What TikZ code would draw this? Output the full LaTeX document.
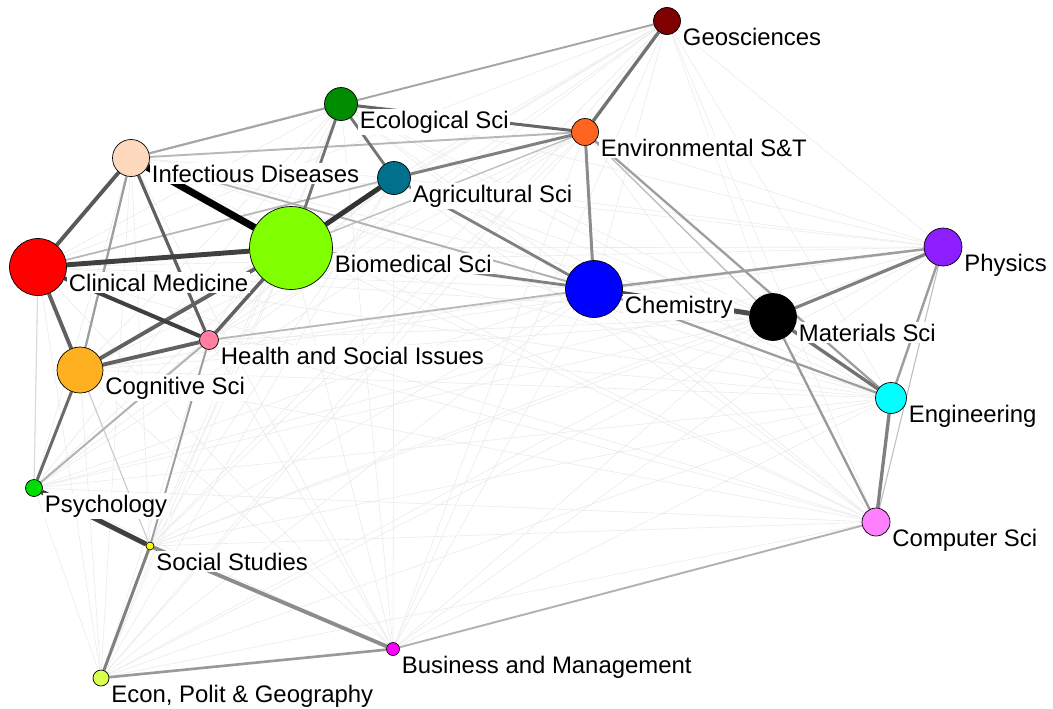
\documentclass[tikz,border=0pt]{standalone}
\usepackage{fontspec}
\setmainfont{Liberation Sans}
\usetikzlibrary{backgrounds}

\definecolor{geoc}{HTML}{7F0000}
\definecolor{ecoc}{HTML}{008C00}
\definecolor{envc}{HTML}{FF6420}
\definecolor{infc}{HTML}{FFD9BE}
\definecolor{agrc}{HTML}{00708C}
\definecolor{bioc}{HTML}{7FFF00}
\definecolor{clic}{HTML}{FF0000}
\definecolor{chec}{HTML}{0000FF}
\definecolor{phyc}{HTML}{8C1EFF}
\definecolor{heac}{HTML}{FF7FA0}
\definecolor{cogc}{HTML}{FFB020}
\definecolor{engc}{HTML}{00FFFF}
\definecolor{comc}{HTML}{FF80FF}
\definecolor{psyc}{HTML}{00DD00}
\definecolor{socc}{HTML}{FFFF00}
\definecolor{busc}{HTML}{FF00FF}
\definecolor{ecnc}{HTML}{D9FF4F}

\begin{document}
\begin{tikzpicture}[x=0.02cm,y=-0.02cm,
  field/.style={circle,draw=black,line width=0.4pt,inner sep=0pt,minimum size=#1},
  lbl/.style={fill=white,inner sep=1pt,anchor=base west,yshift=-0.48cm,
    font=\fontsize{13.6}{16}\selectfont},
  faint/.style={draw=black!8,line width=0.35pt},
  lnk/.style 2 args={draw=black!#1,line width=#2pt}]
  \useasboundingbox (0,0) rectangle (1053,708);

  \node[field=5.4mm,fill=geoc]  (geo) at (667,21)  [label={[lbl]east:Geosciences}] {};
  \node[field=6.6mm,fill=ecoc]  (eco) at (341,104) [label={[lbl]east:Ecological Sci}] {};
  \node[field=5.4mm,fill=envc]  (env) at (585,132) [label={[lbl]east:Environmental S\&T}] {};
  \node[field=7.4mm,fill=infc]  (inf) at (131,158) [label={[lbl]east:Infectious Diseases}] {};
  \node[field=6.6mm,fill=agrc]  (agr) at (394,178) [label={[lbl]east:Agricultural Sci}] {};
  \node[field=16.6mm,fill=bioc] (bio) at (291,248) [label={[lbl]east:Biomedical Sci}] {};
  \node[field=11.4mm,fill=clic] (cli) at (38,267)  [label={[lbl]east:Clinical Medicine}] {};
  \node[field=11.4mm,fill=chec] (che) at (594,289) [label={[lbl]east:Chemistry}] {};
  \node[field=9.4mm,fill=black] (mat) at (773,317) [label={[lbl]east:Materials Sci}] {};
  \node[field=7.6mm,fill=phyc]  (phy) at (943,247) [label={[lbl]east:Physics}] {};
  \node[field=3.8mm,fill=heac]  (hea) at (209,340) [label={[lbl]east:Health and Social Issues}] {};
  \node[field=9.2mm,fill=cogc]  (cog) at (80,370)  [label={[lbl]east:Cognitive Sci}] {};
  \node[field=6.2mm,fill=engc]  (eng) at (891,398) [label={[lbl]east:Engineering}] {};
  \node[field=5.6mm,fill=comc]  (com) at (876,522) [label={[lbl]east:Computer Sci}] {};
  \node[field=3.4mm,fill=psyc]  (psy) at (34,488)  [label={[lbl]east:Psychology}] {};
  \node[field=1.6mm,fill=socc]  (soc) at (150,546) [label={[lbl]east:Social Studies}] {};
  \node[field=2.6mm,fill=busc]  (bus) at (393,649) [label={[lbl]east:Business and Management}] {};
  \node[field=3.2mm,fill=ecnc]  (ecn) at (101,678) [label={[lbl]east:{Econ, Polit \& Geography}}] {};

  \begin{scope}[on background layer]
    % faint links between every pair of fields
    \foreach \a [count=\i] in {geo,eco,env,inf,agr,bio,cli,che,mat,phy,hea,cog,eng,com,psy,soc,bus,ecn}
      \foreach \b [count=\j] in {geo,eco,env,inf,agr,bio,cli,che,mat,phy,hea,cog,eng,com,psy,soc,bus,ecn}
        {\ifnum\j>\i \draw[faint] (\a) -- (\b); \fi}
    % weak links
    \path (cli) edge[lnk={15}{0.6}] (psy)
          (cog) edge[lnk={20}{0.6}] (soc)
          (phy) edge[lnk={25}{0.6}] (com)
          (env) edge[lnk={25}{0.8}] (mat)
          (bio) edge[lnk={25}{0.8}] (env)
          (cli) edge[lnk={28}{1.0}] (agr)
          (hea) edge[lnk={28}{1.0}] (che)
          (inf) edge[lnk={28}{1.1}] (env)
          (inf) edge[lnk={30}{1.1}] (eco)
          (inf) edge[lnk={30}{1.1}] (che)
          (psy) edge[lnk={30}{1.1}] (hea)
          (bus) edge[lnk={30}{1.1}] (com)
          (inf) edge[lnk={35}{1.1}] (geo);
    % medium links
    \path (hea) edge[lnk={38}{1.1}] (soc)
          (inf) edge[lnk={38}{1.3}] (cog)
          (che) edge[lnk={38}{1.4}] (phy)
          (che) edge[lnk={38}{1.3}] (eng)
          (phy) edge[lnk={38}{1.4}] (eng)
          (env) edge[lnk={38}{1.3}] (eng)
          (mat) edge[lnk={40}{1.3}] (com)
          (ecn) edge[lnk={40}{1.5}] (bus)
          (soc) edge[lnk={45}{2.2}] (bus)
          (env) edge[lnk={45}{1.7}] (che)
          (agr) edge[lnk={50}{1.6}] (che)
          (bio) edge[lnk={50}{1.6}] (che)
          (agr) edge[lnk={50}{1.7}] (env)
          (soc) edge[lnk={50}{1.7}] (ecn)
          (mat) edge[lnk={50}{1.8}] (phy)
          (eng) edge[lnk={50}{1.9}] (com)
          (eco) edge[lnk={55}{1.6}] (agr)
          (eco) edge[lnk={55}{1.6}] (bio)
          (geo) edge[lnk={55}{1.9}] (env)
          (mat) edge[lnk={55}{1.9}] (eng)
          (eco) edge[lnk={60}{1.7}] (env)
          (cog) edge[lnk={58}{1.7}] (psy);
    % strong links
    \path (inf) edge[lnk={62}{1.8}] (hea)
          (hea) edge[lnk={62}{2.0}] (bio)
          (cog) edge[lnk={62}{2.2}] (hea)
          (cog) edge[lnk={62}{2.2}] (bio)
          (cli) edge[lnk={62}{2.2}] (cog)
          (cli) edge[lnk={65}{2.2}] (inf)
          (cli) edge[lnk={75}{2.3}] (hea)
          (cli) edge[lnk={75}{2.8}] (bio)
          (che) edge[lnk={70}{2.8}] (mat)
          (psy) edge[lnk={75}{2.8}] (soc)
          (bio) edge[lnk={80}{2.8}] (agr)
          (inf) edge[lnk={100}{4}] (bio);
  \end{scope}
\end{tikzpicture}
\end{document}
